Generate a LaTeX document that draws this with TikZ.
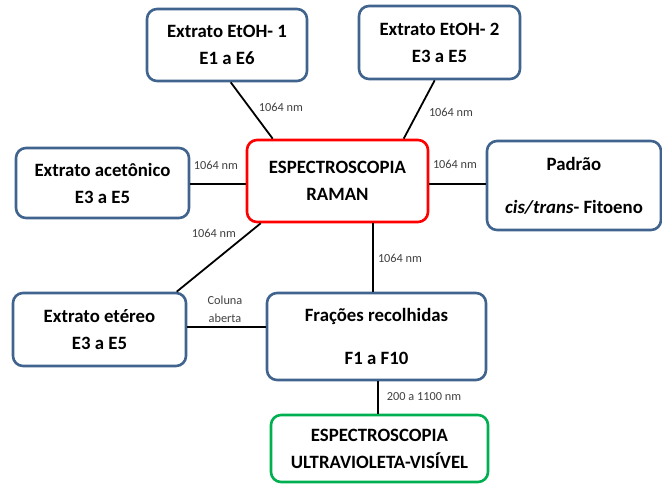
\documentclass[tikz,border=0pt]{standalone}
\usepackage{fontspec}
\setmainfont{Carlito}
\usetikzlibrary{calc}
\definecolor{boxblue}{HTML}{41648F}
\definecolor{boxred}{HTML}{FF0000}
\definecolor{boxgreen}{HTML}{00B050}
\definecolor{lblgray}{HTML}{404040}
\tikzset{
  box/.style={draw=boxblue, line width=2.6pt, rounded corners=10pt, fill=white, align=center, inner sep=0pt},
  normgap/.style={font=\fontsize{18.8}{27}\selectfont\bfseries},
  widegap/.style={font=\fontsize{18.8}{43}\selectfont\bfseries},
  conn/.style={draw=black, line width=1.8pt},
  lbl/.style={text=lblgray, font=\fontsize{12.3}{14}\selectfont, inner sep=0pt, align=center}
}
\begin{document}
\begin{tikzpicture}[x=1pt,y=-1pt]
\useasboundingbox (0,0) rectangle (662,484);
% boxes
\node[box, normgap, minimum width=160pt, minimum height=72pt] (e1) at (227,45) {Extrato EtOH- 1\\E1 a E6};
\node[box, normgap, minimum width=161pt, minimum height=73pt] (e2) at (439.5,42.5) {Extrato EtOH- 2\\E3 a E5};
\node[box, normgap, draw=boxred, minimum width=181pt, minimum height=82pt] (raman) at (337.5,181) {ESPECTROSCOPIA\\RAMAN};
\node[box, normgap, minimum width=173pt, minimum height=70pt] (acet) at (102.5,183) {Extrato acetônico\\E3 a E5};
\node[box, widegap, minimum width=174pt, minimum height=89pt] (padrao) at (574,185.5) {Padrão\\\textit{cis/trans}- Fitoeno};
\node[box, normgap, minimum width=173pt, minimum height=73pt] (eter) at (99.5,329.5) {Extrato etéreo\\E3 a E5};
\node[box, widegap, minimum width=219pt, minimum height=87pt] (frac) at (376.5,336.5) {Frações recolhidas\\F1 a F10};
\node[box, normgap, draw=boxgreen, minimum width=217pt, minimum height=67pt] (uv) at (379.5,448.5) {ESPECTROSCOPIA\\ULTRAVIOLETA-VISÍVEL};
% connectors
\draw[conn] ($(e1.south west)+(85,0)$) -- ($(raman.north west)+(27,0)$);
\draw[conn] ($(e2.south west)+(77,0)$) -- ($(raman.north west)+(158,0)$);
\draw[conn] (acet.east |- 0,184) -- (raman.west |- 0,184);
\draw[conn] (raman.east |- 0,184) -- (padrao.west |- 0,184);
\draw[conn] ($(raman.south west)+(15,0)$) -- ($(eter.north west)+(165,0)$);
\draw[conn] (raman.south -| 373,0) -- (frac.north -| 373,0);
\draw[conn] (eter.east |- 0,327) -- (frac.west |- 0,327);
\draw[conn] (frac.south -| 378,0) -- (uv.north -| 378,0);
% labels
\node[lbl] (l1) at (281,107) {1064 nm};
\node[lbl] (l2) at (451,112) {1064 nm};
\node[lbl] (l3) at (216,165) {1064 nm};
\node[lbl] (l4) at (455,164) {1064 nm};
\node[lbl] (l5) at (214,233) {1064 nm};
\node[lbl] (l6) at (400,258) {1064 nm};
\node[lbl, font=\fontsize{12.3}{18}\selectfont] (l7) at (225,309) {Coluna\\aberta};
\node[lbl] (l8) at (424,397) {200 a 1100 nm};
\end{tikzpicture}
\end{document}
